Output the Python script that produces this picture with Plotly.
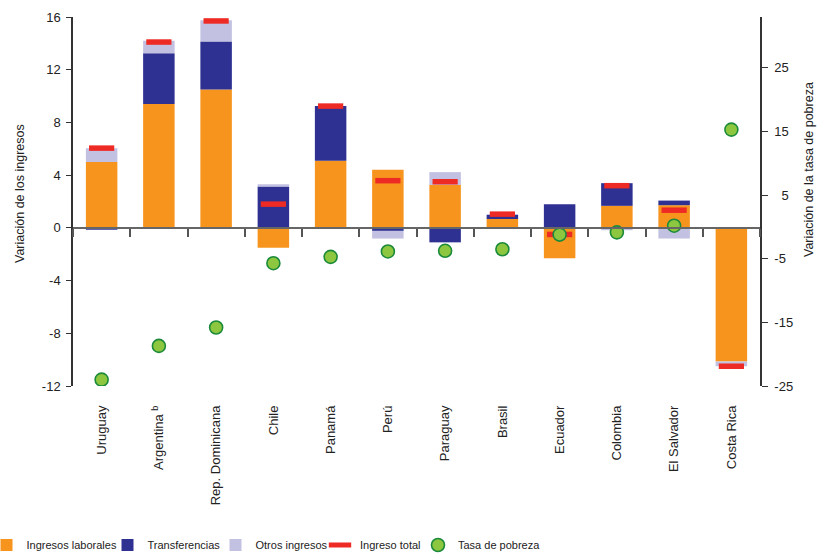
import plotly.graph_objects as go

# ---- data ----
countries = ["Uruguay", "Argentina <sup>b</sup>", "Rep. Dominicana", "Chile", "Panamá",
             "Perú", "Paraguay", "Brasil", "Ecuador", "Colombia", "El Salvador", "Costa Rica"]
ingresos_laborales = [5.0, 9.4, 10.5, -1.5, 5.1, 4.4, 3.25, 0.68, -2.3, 1.67, 1.72, -10.15]
transferencias = [-0.15, 3.85, 3.65, 3.13, 4.14, -0.23, -1.1, 0.3, 1.8, 1.72, 0.35, 0.0]
otros_ingresos = [1.05, 0.95, 1.6, 0.17, 0.0, -0.58, 0.98, 0.06, 0.0, -0.18, -0.81, -0.35]
ingreso_total = [6.05, 14.1, 15.7, 1.8, 9.24, 3.58, 3.5, 1.04, -0.5, 3.2, 1.34, -10.5]
tasa_pobreza = [-24.0, -18.7, -15.8, -5.7, -4.7, -3.85, -3.75, -3.5, -1.2, -0.85, 0.2, 15.3]

left_ticks = [-12, -8, -4, 0, 4, 8, 12, 16]
left_ticktext = ["-12", "-8", "-4", "0", "4", "8", "12", "16"]
right_ticks = [-25, -15, -5, 5, 15, 25]
right_ticktext = ["-25", "-15", "-5", "\u00a0\u00a05", "15", "25"]

ORANGE = "#F7941D"
NAVY = "#2E3192"
LAVENDER = "#C2C1E1"
RED = "#EE2A24"
GREEN = "#8DC63F"
DKGREEN = "#1B8A3B"
FONT = "Liberation Sans, Arial, sans-serif"

W, H = 822, 555
ML, MR, MT, MB = 73, 62, 17, 169
PW, PH = W - ML - MR, H - MT - MB

fig = go.Figure()
fig.add_trace(go.Bar(name="Ingresos laborales", x=countries, y=ingresos_laborales,
                     marker=dict(color=ORANGE, line=dict(width=0)), width=0.55,
                     legend="legend"))
fig.add_trace(go.Bar(name="Transferencias", x=countries, y=transferencias,
                     marker=dict(color=NAVY, line=dict(width=0)), width=0.55,
                     legend="legend2"))
fig.add_trace(go.Bar(name="Otros ingresos", x=countries, y=otros_ingresos,
                     marker=dict(color=LAVENDER, line=dict(width=0)), width=0.55,
                     legend="legend3"))
fig.add_trace(go.Scatter(name="Ingreso total", x=countries, y=ingreso_total, mode="markers",
                         marker=dict(symbol="line-ew", size=18, color=RED,
                                     line=dict(color=RED, width=5.5)),
                         legend="legend4"))
fig.add_trace(go.Scatter(name="Tasa de pobreza", x=countries, y=tasa_pobreza, mode="markers",
                         xaxis="x2", yaxis="y2",
                         marker=dict(symbol="circle", size=13, color=GREEN,
                                     line=dict(color=DKGREEN, width=1.6)),
                         legend="legend5"))


def leg(px):
    # px: left edge of the legend in page pixels
    return dict(orientation="h", xref="paper", yref="paper", x=(px - ML) / PW,
                y=(H - MB - 545) / PH, xanchor="left", yanchor="middle", itemwidth=30,
                font=dict(family=FONT, size=11, color="#222"), bgcolor="rgba(0,0,0,0)")


fig.update_layout(
    width=W, height=H,
    margin=dict(l=ML, r=MR, t=MT, b=MB, autoexpand=False),
    paper_bgcolor="white", plot_bgcolor="white",
    barmode="relative",
    font=dict(family=FONT, size=13, color="#222"),
    showlegend=True,
    legend=leg(-13.5), legend2=leg(107.5), legend3=leg(215.5), legend4=leg(320),
    legend5=leg(418),
    xaxis=dict(type="category", categoryorder="array", categoryarray=countries,
               range=[-0.5, 11.5], tickangle=-90, ticks="", showline=False, showgrid=False,
               zeroline=False, ticklabelstandoff=16, tickfont=dict(size=13), automargin=False),
    xaxis2=dict(type="category", categoryorder="array", categoryarray=countries,
                range=[-0.5, 11.5], overlaying="x", anchor="free", position=12 / 28,
                side="bottom", showline=True, linecolor="#666", linewidth=1.5,
                ticks="outside", tickson="boundaries", ticklen=8, tickwidth=1.5,
                tickcolor="#555", showticklabels=False, showgrid=False, zeroline=False,
                layer="above traces", automargin=False),
    yaxis=dict(range=[-12, 16], tickvals=left_ticks, ticktext=left_ticktext,
               ticks="outside", ticklen=5, tickcolor="#333", showline=True, linecolor="#333",
               linewidth=1.5, showgrid=False, zeroline=False, tickfont=dict(size=13),
               ticklabelstandoff=3, automargin=False),
    yaxis2=dict(range=[-25, 33], tickvals=right_ticks, ticktext=right_ticktext,
                overlaying="y", side="right", ticks="outside", ticklen=6, tickcolor="#333",
                showline=True, linecolor="#333", linewidth=1.5, showgrid=False,
                zeroline=False, tickfont=dict(size=13), anchor="x", ticklabelstandoff=4,
                automargin=False),
    yaxis3=dict(range=[-25, 33], tickvals=right_ticks, overlaying="y", side="right",
                anchor="x", ticks="inside", ticklen=6, tickcolor="#333", showline=False,
                showgrid=False, zeroline=False, showticklabels=False, automargin=False),
    annotations=[
        dict(text="Variación de los ingresos", xref="paper", yref="paper",
             x=(20 - ML) / PW, y=(H - MB - 194) / PH, xanchor="center", yanchor="middle",
             textangle=-90, showarrow=False, font=dict(size=12.5, color="#222")),
        dict(text="Variación de la tasa de pobreza", xref="paper", yref="paper",
             x=(809 - ML) / PW, y=(H - MB - 170) / PH, xanchor="center", yanchor="middle",
             textangle=-90, showarrow=False, font=dict(size=12.5, color="#222")),
    ],
)

fig.write_html("out.html", config={"displayModeBar": False},
               post_script="document.body.style.margin='0px';")
